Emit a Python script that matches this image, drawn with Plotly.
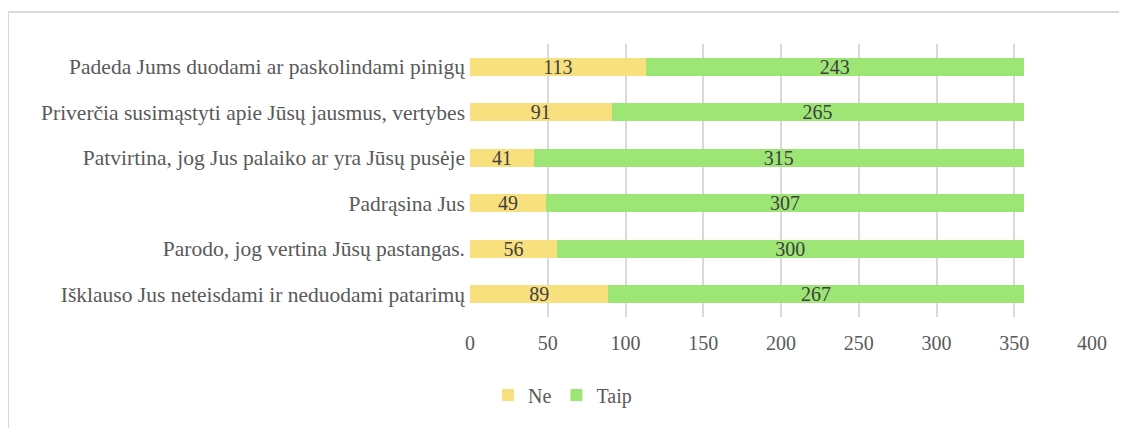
import plotly.graph_objects as go

categories = [
    "Išklauso Jus neteisdami ir neduodami patarimų",
    "Parodo, jog vertina Jūsų pastangas.",
    "Padrąsina Jus",
    "Patvirtina, jog Jus palaiko ar yra Jūsų pusėje",
    "Priverčia susimąstyti apie Jūsų jausmus, vertybes",
    "Padeda Jums duodami ar paskolindami pinigų",
]
ne_values = [89, 56, 49, 41, 91, 113]
taip_values = [267, 300, 307, 315, 265, 243]
x_ticks = [0, 50, 100, 150, 200, 250, 300, 350, 400]

FONT = "Liberation Serif, Times New Roman, serif"
FS = 20

fig = go.Figure()
for name, vals, col in [("Ne", ne_values, "#F9E07F"), ("Taip", taip_values, "#9DE574")]:
    fig.add_trace(go.Bar(
        y=categories, x=vals, name=name, orientation="h",
        marker=dict(color=col, line=dict(width=0)),
        text=vals, textposition="inside", insidetextanchor="middle",
        textangle=0, constraintext="none",
        insidetextfont=dict(family=FONT, size=FS, color="#404040"),
    ))

OFF = 8  # page body margin
W, H = 1127, 428
# plot area in screenshot pixels
PL, PR, PT, PB = 470, 1092, 44, 317
L, R, T, B = PL - OFF, W - PR + OFF, PT - OFF, H - PB + OFF
pw, ph = PR - PL, PB - PT

def px(x):
    return (x - PL) / pw

def py(y):
    return (PB - y) / ph

fig.update_layout(
    width=W, height=H,
    barmode="stack", bargap=0.6,
    margin=dict(l=L, r=R, t=T, b=B, autoexpand=False),
    paper_bgcolor="white", plot_bgcolor="white",
    font=dict(family=FONT, size=FS, color="#595959"),
    uniformtext=dict(mode="show", minsize=FS),
    xaxis=dict(
        range=[0, 400], tickvals=x_ticks, showgrid=True,
        gridcolor="#D9D9D9", gridwidth=2, zeroline=False,
        showline=False, ticks="", tickfont=dict(family=FONT, size=FS, color="#595959"),
        ticklabelstandoff=12,
    ),
    yaxis=dict(
        showgrid=False, zeroline=False, showline=False, ticks="",
        tickfont=dict(family=FONT, size=21.5, color="#595959"),
        ticklabelstandoff=4,
    ),
    legend=dict(
        orientation="h", x=px(488), xanchor="left", y=py(395), yanchor="middle",
        font=dict(family=FONT, size=FS, color="#595959"),
        itemwidth=30, traceorder="normal",
    ),
    shapes=[
        dict(type="line", xref="paper", yref="paper",
             x0=px(8), x1=px(8), y0=py(440), y1=py(12),
             line=dict(color="#D9D9D9", width=2)),
        dict(type="line", xref="paper", yref="paper",
             x0=px(8), x1=px(1140), y0=py(12), y1=py(12),
             line=dict(color="#D9D9D9", width=2)),
    ],
)

fig.write_html("out.html")
